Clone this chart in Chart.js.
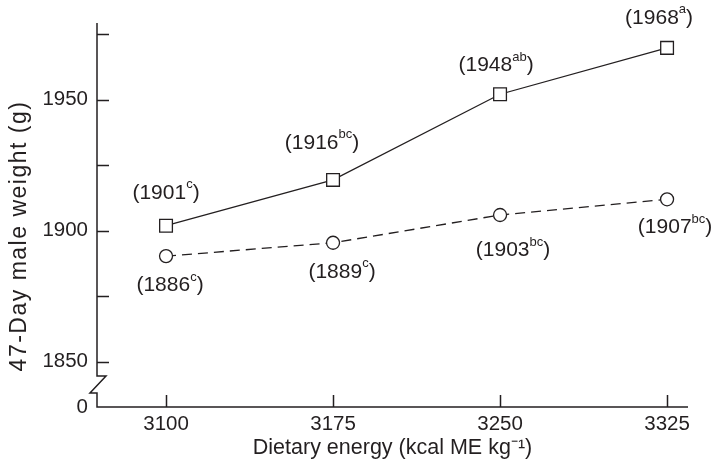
<!DOCTYPE html>
<html>
<head>
<meta charset="utf-8">
<script src="https://cdn.jsdelivr.net/npm/chart.js@4.4.0/dist/chart.umd.min.js"></script>
<style>
  html, body { margin: 0; padding: 0; background: #fff; }
  canvas { display: block; }
</style>
</head>
<body>
<canvas id="chart" width="719" height="466"></canvas>
<script>
// values
const energy = [3100, 3175, 3250, 3325];
const weightSquare = [1901.9, 1919.4, 1952.1, 1969.8];
const weightCircle = [1890.3, 1895.4, 1906.0, 1912.0];

// the printed means next to each point (number + superscript letters)
const squareLabels = ['1901', '1916', '1948', '1968'];
const squareSup = ['c', 'bc', 'ab', 'a'];
const circleLabels = ['1886', '1889', '1903', '1907'];
const circleSup = ['c', 'c', 'bc', 'bc'];

const yTicks = [1850, 1875, 1900, 1925, 1950, 1975];
const yLabelled = [1850, 1900, 1950];
const yBottom = 1832.7; // broken axis, shown as 0
const yTop = 1979.3;

// label offsets from the point (px)
const squareOffsets = [[0, -33], [-11, -37], [-4, -29], [-8, -30]];
const circleOffsets = [[4, 29], [9, 29], [13, 35], [8, 28]];

const INK = '#231f20';
const FONT = '"Liberation Sans", Arial, Helvetica, sans-serif';

function drawLabel(ctx, cx, cy, main, sup) {
    ctx.save();
    ctx.fillStyle = INK;
    ctx.textBaseline = 'middle';
    ctx.textAlign = 'left';
    const big = '21px ' + FONT;
    const small = '13px ' + FONT;
    ctx.font = big;
    const w1 = ctx.measureText('(' + main).width;
    const w3 = ctx.measureText(')').width;
    ctx.font = small;
    const w2 = ctx.measureText(sup).width;
    let x = cx - (w1 + w2 + w3) / 2;
    ctx.font = big;
    ctx.fillText('(' + main, x, cy);
    x += w1;
    ctx.font = small;
    ctx.fillText(sup, x, cy - 8);
    x += w2;
    ctx.font = big;
    ctx.fillText(')', x, cy);
    ctx.restore();
}

const axisPlugin = {
    id: 'axisPlugin',
    afterDraw(chart) {
        const { ctx, chartArea: a, scales: { x, y } } = chart;
        ctx.save();
        ctx.strokeStyle = INK;
        ctx.lineWidth = 1.5;
        ctx.lineCap = 'butt';

        // y axis with break
        const bx = a.left;
        ctx.beginPath();
        ctx.moveTo(bx, a.top);
        ctx.lineTo(bx, a.bottom - 31);
        ctx.lineTo(bx + 9, a.bottom - 31);
        ctx.lineTo(bx - 7, a.bottom - 14);
        ctx.lineTo(bx, a.bottom - 14);
        ctx.lineTo(bx, a.bottom);
        // x axis
        ctx.lineTo(a.right, a.bottom);
        ctx.stroke();

        // inward tick marks
        ctx.beginPath();
        yTicks.forEach(v => {
            const py = Math.round(y.getPixelForValue(v)) + 0.5;
            ctx.moveTo(bx, py);
            ctx.lineTo(bx + 12, py);
        });
        energy.forEach(v => {
            const px = Math.round(x.getPixelForValue(v)) + 0.5;
            ctx.moveTo(px, a.bottom);
            ctx.lineTo(px, a.bottom - 12);
        });
        ctx.stroke();

        // axis titles
        ctx.fillStyle = INK;
        ctx.textAlign = 'center';
        ctx.textBaseline = 'middle';
        ctx.font = '21.5px ' + FONT;
        ctx.fillText('Dietary energy (kcal ME kg\u207B\u00B9)', (a.left + a.right) / 2, 448);
        ctx.font = '23px ' + FONT;
        ctx.letterSpacing = '1.5px';
        ctx.translate(20, 236);
        ctx.rotate(-Math.PI / 2);
        ctx.fillText('47-Day male weight (g)', 0, 0);
        ctx.restore();

        // point annotations
        energy.forEach((e, i) => {
            const px = x.getPixelForValue(e);
            drawLabel(ctx, px + squareOffsets[i][0], y.getPixelForValue(weightSquare[i]) + squareOffsets[i][1], squareLabels[i], squareSup[i]);
            drawLabel(ctx, px + circleOffsets[i][0], y.getPixelForValue(weightCircle[i]) + circleOffsets[i][1], circleLabels[i], circleSup[i]);
        });
    }
};

new Chart(document.getElementById('chart'), {
    type: 'line',
    data: {
        datasets: [
            {
                data: energy.map((e, i) => ({ x: e, y: weightSquare[i] })),
                borderColor: INK,
                borderWidth: 1.3,
                pointStyle: 'rect',
                pointRadius: 9,
                pointBackgroundColor: '#fff',
                pointBorderColor: INK,
                pointBorderWidth: 1.3,
                tension: 0
            },
            {
                data: energy.map((e, i) => ({ x: e, y: weightCircle[i] })),
                borderColor: INK,
                borderWidth: 1.3,
                borderDash: [10, 6],
                pointStyle: 'circle',
                pointRadius: 6.5,
                pointBackgroundColor: '#fff',
                pointBorderColor: INK,
                pointBorderWidth: 1.3,
                tension: 0
            }
        ]
    },
    options: {
        responsive: false,
        animation: false,
        layout: { padding: { left: 0, top: 23, right: 31, bottom: 0 } },
        plugins: { legend: { display: false }, tooltip: { enabled: false } },
        scales: {
            x: {
                type: 'linear',
                min: 3069,
                max: 3334.4,
                grid: { display: false, drawTicks: false },
                border: { display: false },
                afterBuildTicks: s => { s.ticks = energy.map(v => ({ value: v })); },
                afterFit: s => { s.height = 59; },
                ticks: {
                    color: INK,
                    font: { family: FONT, size: 20.5 },
                    padding: 5,
                    maxRotation: 0,
                    callback: v => String(v)
                }
            },
            y: {
                type: 'linear',
                min: yBottom,
                max: yTop,
                grid: { display: false, drawTicks: false },
                border: { display: false },
                afterBuildTicks: s => { s.ticks = [yBottom].concat(yTicks).map(v => ({ value: v })); },
                afterFit: s => { s.width = 97; },
                ticks: {
                    color: INK,
                    font: { family: FONT, size: 20.5 },
                    padding: 9,
                    callback: v => v === yBottom ? '0' : (yLabelled.includes(v) ? String(v) : '')
                }
            }
        }
    },
    plugins: [axisPlugin]
});
</script>
</body>
</html>
